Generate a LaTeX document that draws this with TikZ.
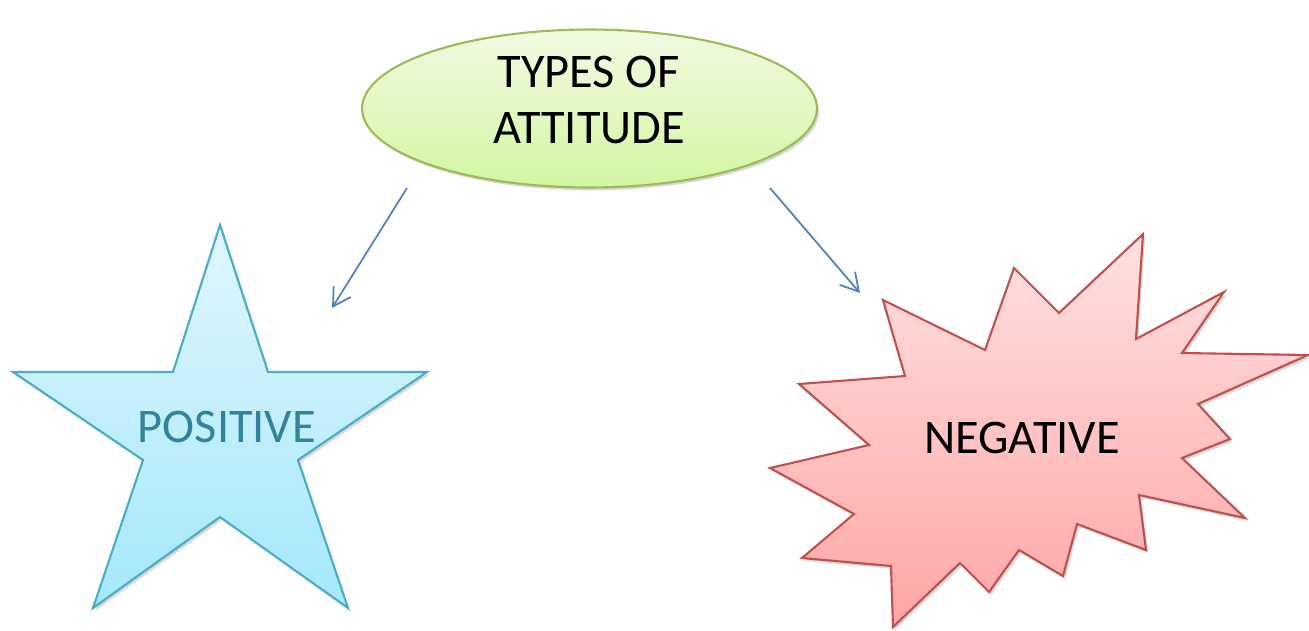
\documentclass[tikz,border=0pt]{standalone}
\usepackage{fontspec}
\setmainfont{Carlito}
\usetikzlibrary{arrows.meta,shadows,shapes.geometric}

\definecolor{ovalline}{HTML}{9BBB59}
\definecolor{ovaltop}{HTML}{F1FBE2}
\definecolor{ovalbot}{HTML}{D3F6A2}
\definecolor{starline}{HTML}{4BACC6}
\definecolor{startop}{HTML}{E1F7FD}
\definecolor{starbot}{HTML}{A4E8FB}
\definecolor{startext}{HTML}{31849B}
\definecolor{burstline}{HTML}{C0504D}
\definecolor{bursttop}{HTML}{FFE1E1}
\definecolor{burstbot}{HTML}{FFA6A6}
\definecolor{linkblue}{HTML}{4F81BD}

\tikzset{
  softshadow/.style={drop shadow={shadow xshift=1.2pt, shadow yshift=-1.6pt,
      opacity=0.22, fill=black!70}},
  oval/.style={ellipse, draw=ovalline, line width=1.2pt,
      top color=ovaltop, bottom color=ovalbot, softshadow,
      minimum width=9.1cm, minimum height=3.16cm, inner sep=0pt},
  starshape/.style={draw=starline, line width=1.2pt, line join=miter,
      top color=startop, bottom color=starbot, softshadow},
  burstshape/.style={draw=burstline, line width=1.2pt, line join=miter,
      top color=bursttop, bottom color=burstbot, softshadow},
  label/.style={font=\fontsize{27.5pt}{32.3pt}\selectfont, inner sep=0pt, align=center},
  link/.style={draw=linkblue, line width=1pt,
      -{Straight Barb[length=10pt,width=11.5pt]}},
}

\begin{document}
\begin{tikzpicture}[x=0.02cm, y=-0.02cm]
\useasboundingbox (0,0) rectangle (1309,630);

% top oval with its two-line title
\node[oval] (types) at (589.5,108.5) {};
\node[label] (typestext) at (589,100) {TYPES OF\\ATTITUDE};

% five-pointed star
\path[starshape] (220,225) -- (268,372) -- (427,372) -- (298,460) -- (348,608)
  -- (220,517) -- (93,608) -- (143,460) -- (13,372) -- (173,372) -- cycle;
\node[label, text=startext] (pos) at (227,427) {POSITIVE};

% jagged burst
\path[burstshape] (883,300) -- (985,350) -- (1014,268) -- (1059,313)
  -- (1143,234) -- (1136,339) -- (1224,292) -- (1182,353) -- (1308,355)
  -- (1198,404) -- (1230,439) -- (1182,458) -- (1245,518) -- (1139,495)
  -- (1146,550) -- (1077,524) -- (1063,576) -- (1019,550) -- (989,592)
  -- (960,563) -- (893,627) -- (891,566) -- (802,558) -- (854,514)
  -- (770,468) -- (869,445) -- (799,384) -- (905,376) -- cycle;
\node[label] (neg) at (1022,438) {NEGATIVE};

% connectors
\coordinate (leftstart) at (407,188);
\coordinate (leftend) at (332,308);
\coordinate (rightstart) at (770,188);
\coordinate (rightend) at (860,293);
\draw[link] (leftstart) -- (leftend);
\draw[link] (rightstart) -- (rightend);
\end{tikzpicture}
\end{document}
